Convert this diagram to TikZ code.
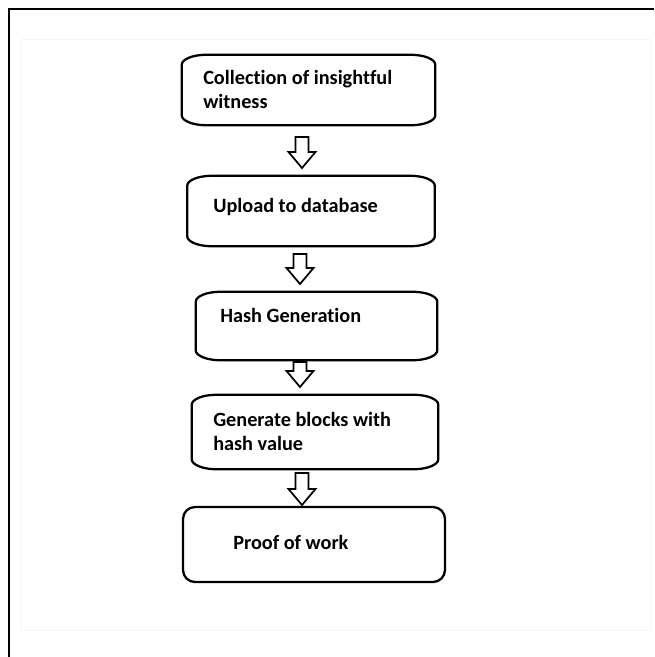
\documentclass[tikz,border=0pt]{standalone}
\usepackage{fontspec}
\setmainfont{Carlito}[RawFeature=-liga]
\usetikzlibrary{calc}
\tikzset{
  boxline/.style={line width=1.7pt, black, line join=round},
  arrowline/.style={line width=1.3pt, black, line join=miter},
  boxshape/.style={rectangle, draw=none, inner sep=0pt, minimum width=#1},
  lbl/.style={anchor=west, inner sep=0pt, font=\bfseries\fontsize{15.2}{17.5}\selectfont, align=left, text=black},
  frameline/.style={line width=2pt, black},
  faint/.style={line width=0.4pt, black!4}
}
\newcommand{\flowoutline}[1]{%
  \draw[boxline] ($(#1.north west)+(0,10)$) .. controls ($(#1.north west)+(0,4.5)$) and ($(#1.north west)+(11,0)$) .. ($(#1.north west)+(25,0)$)
   -- ($(#1.north east)+(-25,0)$) .. controls ($(#1.north east)+(-11,0)$) and ($(#1.north east)+(0,4.5)$) .. ($(#1.north east)+(0,10)$)
   -- ($(#1.south east)+(0,-10)$) .. controls ($(#1.south east)+(0,-4.5)$) and ($(#1.south east)+(-11,0)$) .. ($(#1.south east)+(-25,0)$)
   -- ($(#1.south west)+(25,0)$) .. controls ($(#1.south west)+(11,0)$) and ($(#1.south west)+(0,-4.5)$) .. ($(#1.south west)+(0,-10)$) -- cycle;}
\newcommand{\blockarrowpath}[2]{%
  \draw[arrowline] ($(#1)+(-6.5,0)$) -- ($(#2)+(-6.5,-16)$) -- ($(#2)+(-13.5,-16)$) -- (#2)
   -- ($(#2)+(13.5,-16)$) -- ($(#2)+(6.5,-16)$) -- ($(#1)+(6.5,0)$) -- cycle;}
\begin{document}
\begin{tikzpicture}[x=0.75pt,y=-0.75pt]
\useasboundingbox (0,0) rectangle (654,657);
% page frame
\draw[faint] (21,39) rectangle (650,630);
\draw[frameline] (9,657) -- (9,9) -- (654,9);
% boxes
\node[boxshape=253*0.75pt, minimum height=70*0.75pt] (b1) at (308.5,90) {};
\node[boxshape=247*0.75pt, minimum height=70*0.75pt] (b2) at (311,211) {};
\node[boxshape=241*0.75pt, minimum height=68*0.75pt] (b3) at (316.5,326) {};
\node[boxshape=246*0.75pt, minimum height=74*0.75pt] (b4) at (315,432) {};
\node[boxshape=262*0.75pt, minimum height=75*0.75pt, draw, boxline, rounded corners=9pt] (b5) at (314,544.5) {};
\flowoutline{b1}
\flowoutline{b2}
\flowoutline{b3}
\flowoutline{b4}
% texts
\node[lbl] (t1) at (203,89.5) {Collection of insightful\\witness};
\node[lbl] (t2) at (213,207) {Upload to database};
\node[lbl] (t3) at (220,315) {Hash Generation};
\node[lbl] (t4) at (213,431.5) {Generate blocks with\\hash value};
\node[lbl] (t5) at (233,542) {Proof of work};
% block arrows
\coordinate (a1s) at (302,137); \coordinate (a1e) at (302,168);
\coordinate (a2s) at (300,254); \coordinate (a2e) at (300,284);
\coordinate (a3s) at (300,362); \coordinate (a3e) at (300,387);
\coordinate (a4s) at (302,473); \coordinate (a4e) at (302,505);
\blockarrowpath{a1s}{a1e}
\blockarrowpath{a2s}{a2e}
\blockarrowpath{a3s}{a3e}
\blockarrowpath{a4s}{a4e}
\end{tikzpicture}
\end{document}
